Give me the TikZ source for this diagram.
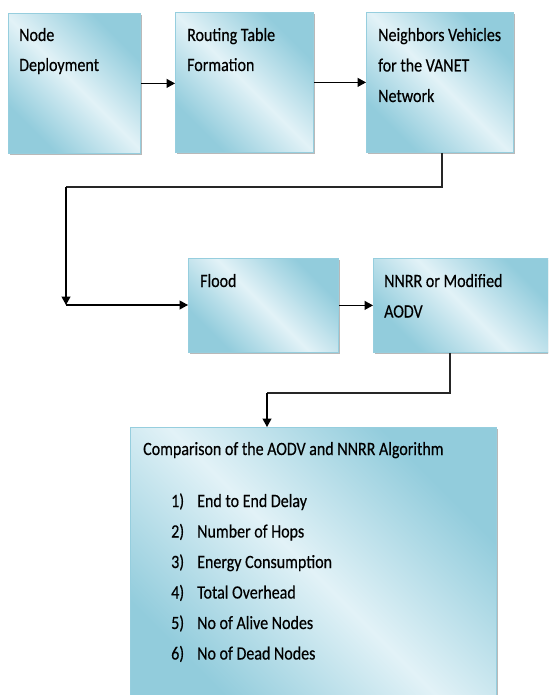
\documentclass[tikz,border=0pt]{standalone}
\usepackage{fontspec}
\setmainfont{Carlito}
\newfontfamily\lblfont{Carlito}[FakeBold=0.5]
\usetikzlibrary{arrows.meta,shadows}
\definecolor{bdark}{RGB}{146,204,220}
\definecolor{blight}{RGB}{226,242,247}
\definecolor{bedge}{RGB}{150,206,222}
\pgfdeclarehorizontalshading{vanet}{100bp}{color(0bp)=(bdark); color(27bp)=(bdark); color(50bp)=(blight); color(73bp)=(bdark); color(100bp)=(bdark)}
\newcommand\vtxt[1]{\scalebox{1}[1.17]{#1}}
\begin{document}
\begin{tikzpicture}[x=1pt,y=-1pt,
 box/.style={draw=bedge, line width=0.8pt, shading=vanet, shading angle=45,
   drop shadow={shadow xshift=1.5pt, shadow yshift=-2pt, fill=black!50, opacity=0.55},
   inner sep=0pt, anchor=north west},
 lbl/.style={anchor=base west, inner sep=0pt, font=\lblfont\fontsize{16}{19}\selectfont, text=black},
 arr/.style={draw=black, line width=1.2pt, -{Triangle[length=8.5pt,width=9pt]}},
 ln/.style={draw=black!85, line width=1.2pt}]
\clip (0,0) rectangle (548,695);
\fill[white] (0,0) rectangle (548,695);
% boxes
\node[box, minimum width=132pt, minimum height=140pt] (b1) at (8,13) {};
\node[box, minimum width=138pt, minimum height=140pt] (b2) at (175,12) {};
\node[box, minimum width=147pt, minimum height=140pt] (b3) at (366,12) {};
\node[box, minimum width=150pt, minimum height=94pt] (fl) at (188,258) {};
\node[box, minimum width=180pt, minimum height=94pt] (nn) at (373,258) {};
\node[box, minimum width=366pt, minimum height=290pt] (cp) at (130,427) {};
% labels
\node[lbl] (t11) at (19,41) {\vtxt{Node}};
\node[lbl] (t12) at (19,71) {\vtxt{Deployment}};
\node[lbl] (t21) at (187,41) {\vtxt{Routing Table}};
\node[lbl] (t22) at (187,71) {\vtxt{Formation}};
\node[lbl] (t31) at (378,41) {\vtxt{Neighbors Vehicles}};
\node[lbl] (t32) at (378,71.5) {\vtxt{for the VANET}};
\node[lbl] (t33) at (378,102) {\vtxt{Network}};
\node[lbl] (t41) at (200,287) {\vtxt{Flood}};
\node[lbl] (t51) at (384,287) {\vtxt{NNRR or Modified}};
\node[lbl] (t52) at (384,317.5) {\vtxt{AODV}};
\node[lbl] (tc) at (143,455) {\vtxt{Comparison of the AODV and NNRR Algorithm}};
\node[lbl] (n1) at (171,507) {\vtxt{1)}};
\node[lbl] (i1) at (197,507) {\vtxt{End to End Delay}};
\node[lbl] (n2) at (171,537.5) {\vtxt{2)}};
\node[lbl] (i2) at (197,537.5) {\vtxt{Number of Hops}};
\node[lbl] (n3) at (171,568) {\vtxt{3)}};
\node[lbl] (i3) at (197,568) {\vtxt{Energy Consumption}};
\node[lbl] (n4) at (171,598.5) {\vtxt{4)}};
\node[lbl] (i4) at (197,598.5) {\vtxt{Total Overhead}};
\node[lbl] (n5) at (171,629) {\vtxt{5)}};
\node[lbl] (i5) at (197,629) {\vtxt{No of Alive Nodes}};
\node[lbl] (n6) at (171,659.5) {\vtxt{6)}};
\node[lbl] (i6) at (197,659.5) {\vtxt{No of Dead Nodes}};
% connectors
\draw[arr] (b1.east) -- (b1.east -| b2.west);
\draw[arr] (b2.east) -- (b2.east -| b3.west);
\coordinate (k1) at (442,187);
\coordinate (k2) at (66,187);
\coordinate (k3) at (66,305);
\draw[ln] (b3.south -| k1) -- (k1) -- (k2);
\draw[arr] (k2) -- (k3);
\draw[arr] (k3) -- (k3 -| fl.west);
\draw[arr] (fl.east) -- (fl.east -| nn.west);
\coordinate (k4) at (450,393);
\coordinate (k5) at (267,393);
\draw[ln] (nn.south -| k4) -- (k4) -- (k5);
\draw[arr] (k5) -- (k5 |- cp.north);
\end{tikzpicture}
\end{document}
